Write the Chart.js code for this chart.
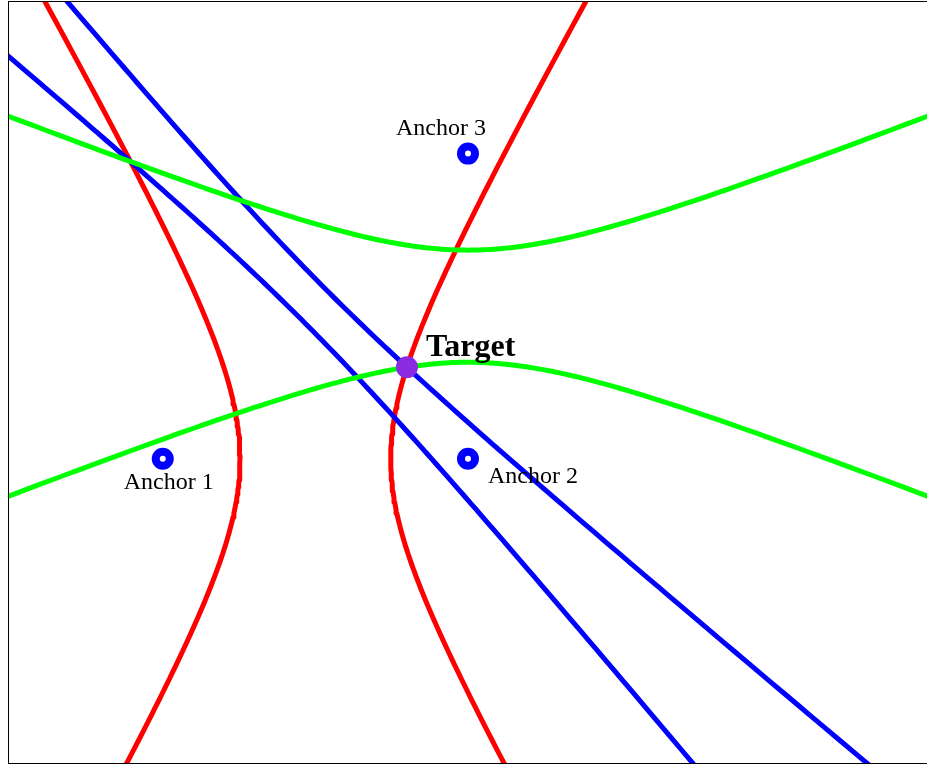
<!DOCTYPE html>
<html>
<head>
<meta charset="utf-8">
<script src="https://cdn.jsdelivr.net/npm/chart.js@4"></script>
<style>
  html, body { margin: 0; padding: 0; background: #fff; overflow: hidden; }
  #wrap { position: absolute; left: 0; top: 0; width: 940px; height: 765px; }
</style>
</head>
<body>
<div id="wrap"><canvas id="c" width="940" height="765"></canvas></div>
<script>
// Anchor (receiver) positions and the emitter position
const anchorNames = ['Anchor 1', 'Anchor 2', 'Anchor 3'];
const anchorX = [0, 1, 1];
const anchorY = [0, 0, 1];
const targetName = 'Target';
const targetXY = [0.8, 0.3];

// Anchor pairs whose range difference defines each hyperbola, with colours
const pairA = [0, 1, 0];
const pairB = [1, 2, 2];
const pairColors = ['#ff0000', '#00ff00', '#0000ff'];

// Axis window
const xRange = [-0.507, 2.53];
const yRange = [-1, 1.5];

// Locus of points whose distance difference to two anchors equals the target's
function hyperbola(i, j, sign) {
  const x1 = anchorX[i], y1 = anchorY[i], x2 = anchorX[j], y2 = anchorY[j];
  const cx = (x1 + x2) / 2, cy = (y1 + y2) / 2;
  const dist = Math.hypot(x2 - x1, y2 - y1);
  const ux = (x2 - x1) / dist, uy = (y2 - y1) / dist;
  const vx = -uy, vy = ux;
  const c = dist / 2;
  const d = Math.hypot(targetXY[0] - x1, targetXY[1] - y1) - Math.hypot(targetXY[0] - x2, targetXY[1] - y2);
  const a = Math.abs(d) / 2;
  const b = Math.sqrt(c * c - a * a);
  const pts = [];
  const n = 300, tMax = 4;
  for (let k = 0; k <= n; k++) {
    const t = -tMax + 2 * tMax * k / n;
    const p = sign * a * Math.cosh(t), q = b * Math.sinh(t);
    pts.push({ x: cx + p * ux + q * vx, y: cy + p * uy + q * vy });
  }
  return pts;
}

const datasets = [];
datasets.push({
  label: targetName,
  data: [{ x: targetXY[0], y: targetXY[1] }],
  pointRadius: 11, pointBackgroundColor: '#8a2be2', pointBorderWidth: 0,
  showLine: false, order: 0
});
datasets.push({
  label: 'anchors',
  data: anchorX.map((x, k) => ({ x: x, y: anchorY[k] })),
  pointRadius: 7, pointBackgroundColor: '#ffffff', pointBorderColor: '#0000ff',
  pointBorderWidth: 8, showLine: false, order: 1
});
// red first (bottom), then blue, then green on top
const drawOrder = [1, 2, 0];
drawOrder.forEach((p, idx) => {
  [1, -1].forEach(s => {
    datasets.push({
      label: 'pair' + p + (s > 0 ? 'a' : 'b'),
      data: hyperbola(pairA[p], pairB[p], s),
      showLine: true, pointRadius: 0, borderColor: pairColors[p],
      borderWidth: 5, tension: 0, fill: false,
      borderJoinStyle: 'round', borderCapStyle: 'round', order: 2 + idx
    });
  });
});

const labelPlugin = {
  id: 'labels',
  afterDatasetsDraw(chart) {
    const { ctx, chartArea: ca, scales } = chart;
    const sx = scales.x, sy = scales.y;
    ctx.save();
    ctx.fillStyle = '#000';
    ctx.textBaseline = 'alphabetic';
    ctx.textAlign = 'left';
    ctx.font = '24px "Liberation Serif", "Times New Roman", serif';
    const offs = [[-39, 30], [20, 24], [-72, -19]];
    anchorNames.forEach((name, k) => {
      const px = sx.getPixelForValue(anchorX[k]);
      const py = sy.getPixelForValue(anchorY[k]);
      ctx.fillText(name, px + offs[k][0], py + offs[k][1]);
    });
    ctx.font = 'bold 32px "Liberation Serif", "Times New Roman", serif';
    ctx.fillText(targetName, sx.getPixelForValue(targetXY[0]) + 19, sy.getPixelForValue(targetXY[1]) - 11);
    // plot frame
    ctx.strokeStyle = '#000';
    ctx.lineWidth = 1;
    ctx.strokeRect(Math.round(ca.left) + 0.5, Math.round(ca.top) + 0.5,
      Math.round(ca.right - ca.left), Math.round(ca.bottom - ca.top) - 1);
    ctx.restore();
  }
};

new Chart(document.getElementById('c'), {
  type: 'scatter',
  data: { datasets },
  options: {
    responsive: false,
    animation: false,
    layout: { autoPadding: false, padding: { left: 8, top: 1, right: 5, bottom: 1 } },
    plugins: { legend: { display: false }, tooltip: { enabled: false } },
    scales: {
      x: { type: 'linear', min: xRange[0], max: xRange[1], display: false },
      y: { type: 'linear', min: yRange[0], max: yRange[1], display: false }
    }
  },
  plugins: [labelPlugin]
});
</script>
</body>
</html>
